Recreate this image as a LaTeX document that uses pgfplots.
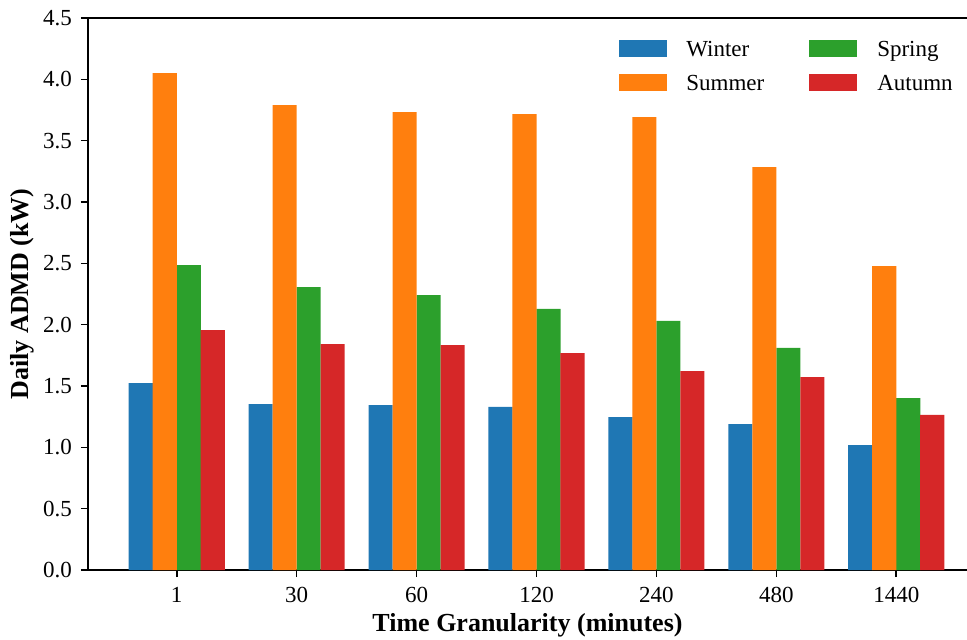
\documentclass[border=0pt]{standalone}
\usepackage{pgfplots}
\pgfplotsset{compat=1.18}
\usepackage{fontspec}
\setmainfont{Liberation Serif}
\definecolor{cWin}{HTML}{1F77B4}
\definecolor{cSum}{HTML}{FF7F0E}
\definecolor{cSpr}{HTML}{2CA02C}
\definecolor{cAut}{HTML}{D62728}
\begin{document}
\begin{tikzpicture}
\begin{axis}[
  at={(0,0)}, anchor=south west,
  scale only axis, width=439.5pt, height=276pt,
  xmin=-0.74, xmax=6.59, ymin=0, ymax=4.5,
  axis x line*=box, axis y line*=left,
  xtick={0,1,2,3,4,5,6}, xticklabels={1,30,60,120,240,480,1440},
  ytick={0,0.5,1,1.5,2,2.5,3,3.5,4,4.5},
  yticklabel style={/pgf/number format/fixed, /pgf/number format/fixed zerofill, /pgf/number format/precision=1, /tikz/xshift=-1pt},
  /pgf/number format/assume math mode=true,
  tick align=outside, xtick pos=bottom, ytick pos=left,
  major tick length=3.5pt,
  tick style={black, line width=0.8pt},
  axis line style={black, line width=0.8pt},
  ticklabel style={font=\fontsize{11.5}{13}\selectfont},
  xticklabel style={yshift=-1.5pt},
  label style={font=\fontsize{13}{15}\selectfont\bfseries},
  xlabel={Time Granularity (minutes)},
  ylabel={Daily ADMD (kW)},
  xlabel style={at={(axis description cs:0.5,-0.0996)}, anchor=center},
  ylabel style={at={(axis description cs:-0.075,0.5)}, anchor=center},
  ybar, bar width=0.201,
  legend columns=2,
  legend style={at={(axis description cs:0.604,0.961)}, anchor=north west,
    draw=none, fill=none, inner sep=0pt,
    font=\fontsize{11.5}{13}\selectfont,
    row sep=8.5pt,
    /tikz/every even column/.append style={column sep=22.5pt},
    nodes={inner sep=0pt, text depth=0pt}},
  legend image code/.code={\fill[#1] (0pt,-4.25pt) rectangle (24pt,4.25pt);},
  legend cell align=left,
]
\addplot[fill=cWin, draw=none, bar shift=-0.3] coordinates {(0,1.524) (1,1.353) (2,1.345) (3,1.329) (4,1.247) (5,1.19) (6,1.019)};
\addlegendentry{\hspace{9.5pt}Winter}
\addplot[fill=cSpr, draw=none, bar shift=0.1] coordinates {(0,2.486) (1,2.307) (2,2.24) (3,2.128) (4,2.03) (5,1.81) (6,1.402)};
\addlegendentry{\hspace{10pt}Spring}
\addplot[fill=cSum, draw=none, bar shift=-0.1] coordinates {(0,4.051) (1,3.79) (2,3.733) (3,3.717) (4,3.693) (5,3.285) (6,2.478)};
\addlegendentry{\hspace{9.5pt}Summer}
\addplot[fill=cAut, draw=none, bar shift=0.3] coordinates {(0,1.956) (1,1.842) (2,1.834) (3,1.769) (4,1.622) (5,1.573) (6,1.264)};
\addlegendentry{\hspace{10pt}Autumn}
\end{axis}
\pgfresetboundingbox
\path[use as bounding box] (-44pt,-34.5pt) rectangle (439.5pt,285pt);
\end{tikzpicture}
\end{document}
